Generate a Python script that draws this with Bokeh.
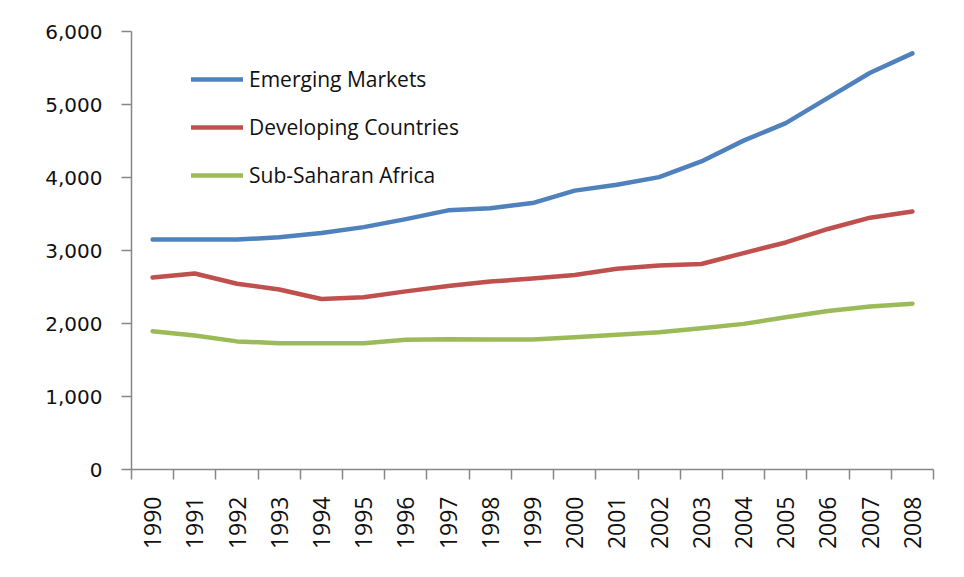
import math
from bokeh.plotting import figure
from bokeh.models import (ColumnDataSource, FixedTicker, NumeralTickFormatter,
                          Legend, LegendItem, Range1d)
from bokeh.embed import file_html
from bokeh.resources import INLINE

years = ["1990", "1991", "1992", "1993", "1994", "1995", "1996", "1997", "1998", "1999",
         "2000", "2001", "2002", "2003", "2004", "2005", "2006", "2007", "2008"]
emerging = [3150, 3150, 3150, 3180, 3240, 3320, 3430, 3550, 3580, 3650,
            3820, 3900, 4005, 4220, 4505, 4745, 5090, 5435, 5700]
developing = [2630, 2685, 2545, 2465, 2335, 2360, 2440, 2515, 2575, 2615,
              2665, 2750, 2795, 2815, 2965, 3110, 3295, 3450, 3535]
sub_saharan = [1895, 1836, 1755, 1730, 1730, 1730, 1776, 1785, 1780, 1780,
               1813, 1845, 1880, 1935, 1995, 2085, 2170, 2233, 2272]
series_names = ["Emerging Markets", "Developing Countries", "Sub-Saharan Africa"]
y_ticks = [0, 1000, 2000, 3000, 4000, 5000, 6000]

colors = ["#4F81BD", "#C0504D", "#9BBB59"]
TEXT = "#111111"

xpos = [i + 0.5 for i in range(len(years))]
src = ColumnDataSource(dict(x=xpos, em=emerging, dev=developing, ssa=sub_saharan))

p = figure(width=948, height=561, output_backend="svg", toolbar_location=None,
           x_range=Range1d(0, len(years)), y_range=Range1d(y_ticks[0], y_ticks[-1]),
           min_border_left=131, min_border_right=15, min_border_top=31, min_border_bottom=92)
p.outline_line_color = None
p.xgrid.grid_line_color = None
p.ygrid.grid_line_color = None
p.background_fill_color = "white"
p.border_fill_color = "white"

renderers = []
for col, c in zip(["em", "dev", "ssa"], colors):
    r = p.line("x", col, source=src, line_color=c, line_width=4.5,
               line_join="round", line_cap="round")
    renderers.append(r)

# x axis: labels at category centres, tick marks at category boundaries
xax = p.xaxis[0]
xax.ticker = FixedTicker(ticks=xpos, minor_ticks=list(range(len(years) + 1)))
xax.major_label_overrides = {x: y for x, y in zip(xpos, years)}
xax.major_tick_line_color = None
xax.major_tick_out = 10
xax.major_tick_in = 0
xax.minor_tick_line_color = "#868686"
xax.minor_tick_line_width = 1.5
xax.minor_tick_out = 10
xax.minor_tick_in = 0
xax.axis_line_color = "#868686"
xax.axis_line_width = 1.5
xax.major_label_orientation = math.pi / 2
xax.major_label_text_font = "Open Sans"
xax.major_label_text_font_size = "23px"
xax.major_label_text_color = TEXT
xax.major_label_standoff = 17

yax = p.yaxis[0]
yax.ticker = FixedTicker(ticks=y_ticks)
yax.formatter = NumeralTickFormatter(format="0,0")
yax.major_tick_line_color = "#868686"
yax.major_tick_line_width = 1.5
yax.major_tick_out = 10
yax.major_tick_in = 0
yax.minor_tick_line_color = None
yax.axis_line_color = "#868686"
yax.axis_line_width = 1.5
yax.major_label_text_font = "DejaVu Sans"
yax.major_label_text_font_size = "20px"
yax.major_label_text_color = TEXT
yax.major_label_standoff = 19

legend = Legend(items=[LegendItem(label=n, renderers=[r]) for n, r in zip(series_names, renderers)],
                location=(60, 280), padding=0, margin=0, spacing=20,
                glyph_width=52, glyph_height=24, label_height=24, label_standoff=6,
                label_text_font="Open Sans", label_text_font_size="21px", label_text_color=TEXT,
                border_line_color=None, background_fill_alpha=0)
p.add_layout(legend, "center")

open("out.html", "w").write(file_html(p, INLINE))
